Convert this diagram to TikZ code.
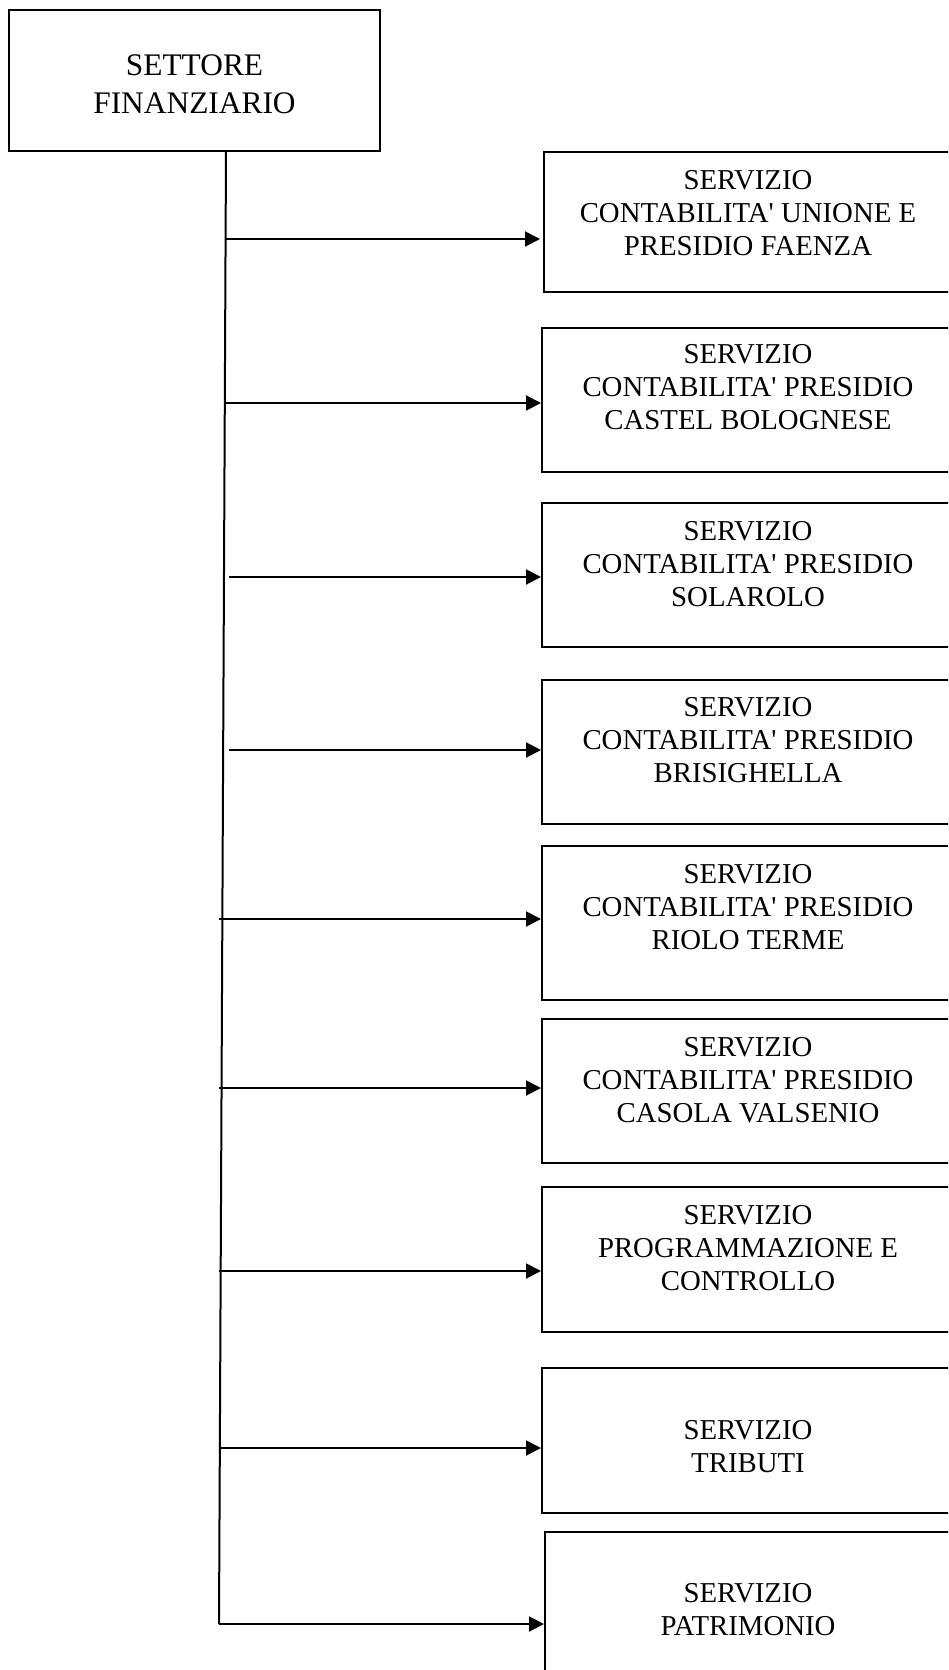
\documentclass[tikz,border=0pt]{standalone}
\usepackage{fontspec}
\setmainfont{Liberation Serif}
\usetikzlibrary{arrows.meta}
\newcommand{\apo}{\textquotesingle}
\begin{document}
\begin{tikzpicture}[x=1pt,y=-1pt,
 box/.style={draw, line width=2pt, rectangle, inner sep=0pt, outer sep=0pt, anchor=north west, minimum width=414pt},
 lbl/.style={align=center, inner sep=0pt, anchor=north, font=\fontsize{28.8}{33}\selectfont},
 toplbl/.style={align=center, inner sep=0pt, anchor=north, font=\fontsize{31.4}{38}\selectfont},
 link/.style={line width=2pt, -{Triangle[length=15pt,width=15pt]}},
 trunk/.style={line width=2pt}]
\clip (0,0) rectangle (948,1670);
% top box
\node[box, minimum width=371pt, minimum height=141pt] (top) at (9,10) {};
\node[toplbl] (toptext) at (194.5,54.5) {SETTORE\\FINANZIARIO};
% service boxes
\node[box, minimum height=140pt] (b1) at (544,152) {};
\node[box, minimum height=144pt] (b2) at (542,328) {};
\node[box, minimum height=144pt] (b3) at (542,503) {};
\node[box, minimum height=144pt] (b4) at (542,680) {};
\node[box, minimum height=154pt] (b5) at (542,846) {};
\node[box, minimum height=144pt] (b6) at (542,1019) {};
\node[box, minimum height=145pt] (b7) at (542,1187) {};
\node[box, minimum height=145pt] (b8) at (542,1368) {};
\node[box, minimum height=170pt] (b9) at (545,1532) {};
% labels
\node[lbl] (t1) at (748,170.5) {SERVIZIO\\CONTABILITA\apo{} UNIONE E\\PRESIDIO FAENZA};
\node[lbl] (t2) at (748,344.5) {SERVIZIO\\CONTABILITA\apo{} PRESIDIO\\CASTEL BOLOGNESE};
\node[lbl] (t3) at (748,521.5) {SERVIZIO\\CONTABILITA\apo{} PRESIDIO\\SOLAROLO};
\node[lbl] (t4) at (748,697.5) {SERVIZIO\\CONTABILITA\apo{} PRESIDIO\\BRISIGHELLA};
\node[lbl] (t5) at (748,864.5) {SERVIZIO\\CONTABILITA\apo{} PRESIDIO\\RIOLO TERME};
\node[lbl] (t6) at (748,1037.5) {SERVIZIO\\CONTABILITA\apo{} PRESIDIO\\CASOLA VALSENIO};
\node[lbl] (t7) at (748,1205.5) {SERVIZIO\\PROGRAMMAZIONE E\\CONTROLLO};
\node[lbl] (t8) at (748,1420.5) {SERVIZIO\\TRIBUTI};
\node[lbl] (t9) at (748,1583.5) {SERVIZIO\\PATRIMONIO};
% trunk
\coordinate (trunktop) at (226,151);
\coordinate (trunkbot) at (219,1624);
\draw[trunk] (trunktop) -- (trunkbot);
% branch starts
\coordinate (c1) at (226,239);
\coordinate (c2) at (226,403);
\coordinate (c3) at (229,577);
\coordinate (c4) at (229,750);
\coordinate (c5) at (219,919);
\coordinate (c6) at (219,1088);
\coordinate (c7) at (219,1271);
\coordinate (c8) at (219,1448);
% arrows
\draw[link] (c1) -- ([xshift=-4pt]c1 -| b1.west);
\draw[link] (c2) -- ([xshift=-1pt]c2 -| b2.west);
\draw[link] (c3) -- ([xshift=-1pt]c3 -| b3.west);
\draw[link] (c4) -- ([xshift=-1pt]c4 -| b4.west);
\draw[link] (c5) -- ([xshift=-1pt]c5 -| b5.west);
\draw[link] (c6) -- ([xshift=-1pt]c6 -| b6.west);
\draw[link] (c7) -- ([xshift=-1pt]c7 -| b7.west);
\draw[link] (c8) -- ([xshift=-1pt]c8 -| b8.west);
\draw[link] (trunkbot) -- ([xshift=-1pt]trunkbot -| b9.west);
\end{tikzpicture}
\end{document}
